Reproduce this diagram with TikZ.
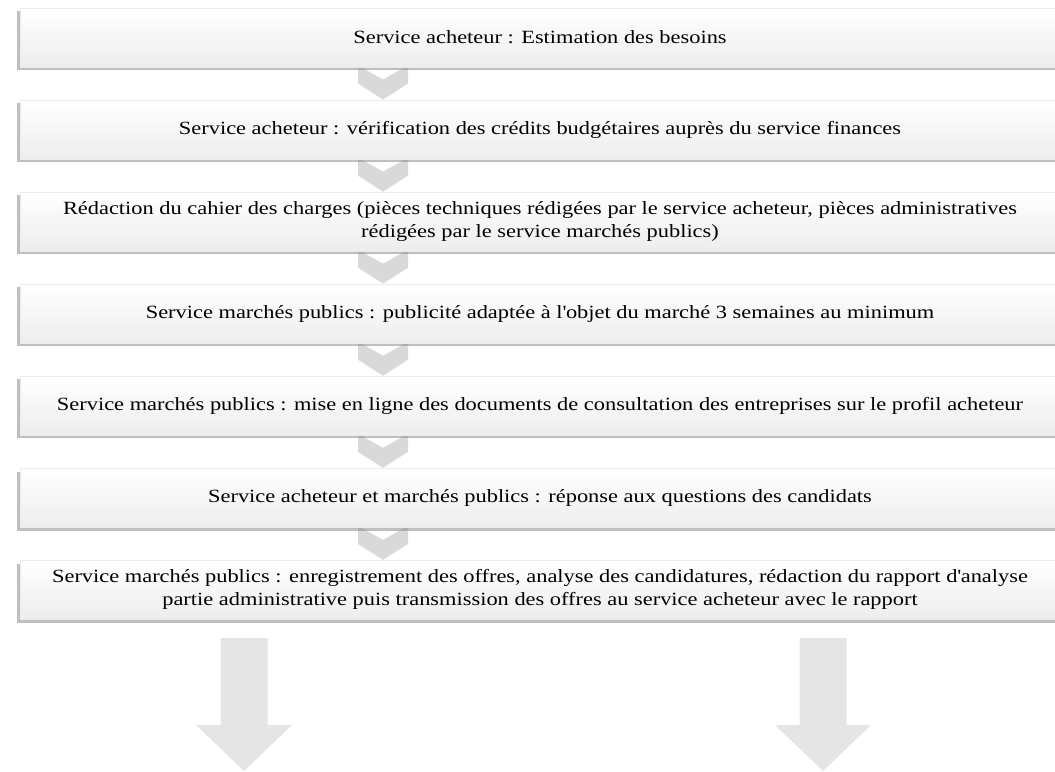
\documentclass[tikz,border=0pt]{standalone}
\usepackage{fontspec}
\setmainfont{Liberation Serif}[FakeStretch=1.2]
\usepackage{tikz}
\usetikzlibrary{shadows, backgrounds}
\usetikzlibrary{positioning}
\usetikzlibrary{calc}
\tikzstyle{stepbox} = [rectangle,
minimum width=780pt,
minimum height=44.25pt,
inner sep=2pt,
text centered,
align=center,
font=\fontsize{14}{17.25}\selectfont,
draw=black!8,
top color=white, bottom color=black!7,
drop shadow={shadow xshift=-2.4pt, shadow yshift=-2.4pt, fill=black!50}]
\tikzstyle{chevfill} = [fill=black!15]
\tikzstyle{bigfill} = [fill=black!10]
\tikzset{
  chevron/.pic = {\fill[chevfill] (-25,-18) -- (0,-4) -- (25,-18) -- (25,0) -- (0,16) -- (-25,0) -- cycle;},
  bigdown/.pic = {\fill[bigfill] (-23.5,0) -- (23.5,0) -- (23.5,87) -- (48,87) -- (0,133) -- (-48,87) -- (-23.5,87) -- cycle;}
}

\begin{document}
\begin{tikzpicture}[x=0.75pt, y=-0.75pt, node distance=24.4pt]
\clip (0,0) rectangle (1055,771);

\node [stepbox] (b1) at (540,37.5) {Service acheteur : Estimation des besoins};
\node [stepbox, below = of b1] (b2) {Service acheteur : vérification des crédits budgétaires auprès du service finances};
\node [stepbox, below = of b2] (b3) {Rédaction du cahier des charges (pièces techniques rédigées par le service acheteur, pièces administratives\\ rédigées par le service marchés publics)};
\node [stepbox, below = of b3] (b4) {Service marchés publics : publicité adaptée à l\textquotesingle objet du marché 3 semaines au minimum};
\node [stepbox, below = of b4] (b5) {Service marchés publics : mise en ligne des documents de consultation des entreprises sur le profil acheteur};
\node [stepbox, below = of b5] (b6) {Service acheteur et marchés publics : réponse aux questions des candidats};
\node [stepbox, below = of b6] (b7) {Service marchés publics : enregistrement des offres, analyse des candidatures, rédaction du rapport d\textquotesingle analyse\\ partie administrative puis transmission des offres au service acheteur avec le rapport};

% chevrons between the steps, behind the boxes
\begin{scope}[on background layer]
\pic (c1) at ($(b1.south)!.5!(b2.north)+(-157,0)$) {chevron};
\pic (c2) at ($(b2.south)!.5!(b3.north)+(-157,0)$) {chevron};
\pic (c3) at ($(b3.south)!.5!(b4.north)+(-157,0)$) {chevron};
\pic (c4) at ($(b4.south)!.5!(b5.north)+(-157,0)$) {chevron};
\pic (c5) at ($(b5.south)!.5!(b6.north)+(-157,0)$) {chevron};
\pic (c6) at ($(b6.south)!.5!(b7.north)+(-157,0)$) {chevron};
\end{scope}

\coordinate (arrL) at (244,638);
\coordinate (arrR) at (823,638);
\pic at (arrL) {bigdown};
\pic at (arrR) {bigdown};

\end{tikzpicture}
\end{document}
